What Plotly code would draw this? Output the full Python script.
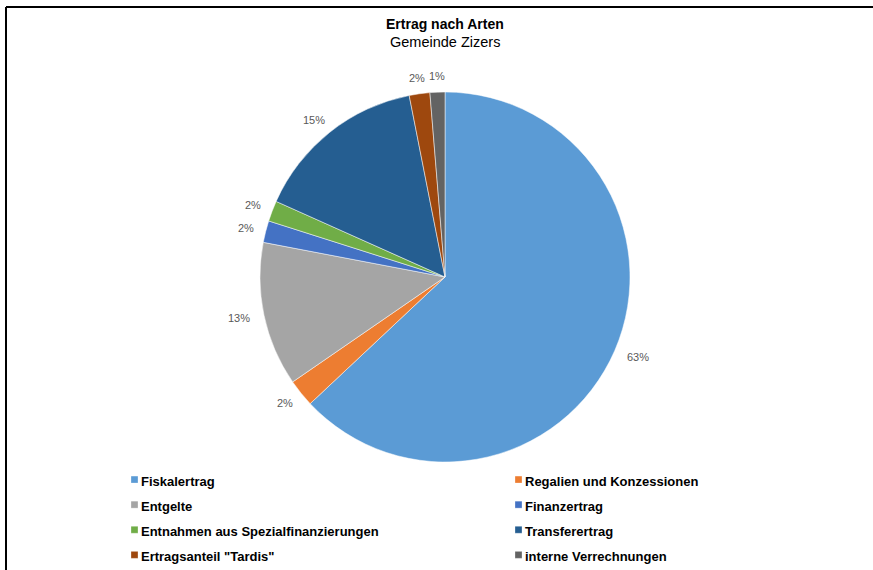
import math
import plotly.graph_objects as go

categories = ["Fiskalertrag", "Regalien und Konzessionen", "Entgelte", "Finanzertrag",
              "Entnahmen aus Spezialfinanzierungen", "Transferertrag",
              "Ertragsanteil \"Tardis\"", "interne Verrechnungen"]
shares = [63.0, 2.4, 12.6, 1.9, 1.8, 15.2, 1.8, 1.3]
colors = ["#5B9BD5", "#ED7D31", "#A5A5A5", "#4472C4", "#70AD47", "#255E91", "#9E480E", "#636363"]

W, H = 873, 570
cx, cy, r = 445, 277, 185
gap = 10

fig = go.Figure(go.Pie(
    labels=[f'<span style="font-size:13px">{c}</span>' for c in categories],
    values=shares, sort=False, direction="clockwise", rotation=0,
    marker=dict(colors=colors, line=dict(color="white", width=0.5)),
    textinfo="none", hoverinfo="label+percent",
    domain=dict(x=[(cx - r) / W, (cx + r) / W], y=[1 - (cy + r) / H, 1 - (cy - r) / H]),
))

# percentage labels placed just outside each slice, derived from the data
annotations = []
total = sum(shares)
cum = 0.0
for v in shares:
    mid = (cum + v / 2) / total * 2 * math.pi
    cum += v
    txt = f"{round(v / total * 100)}%"
    ux, uy = math.sin(mid), -math.cos(mid)
    hw = 5 * len(txt)
    hh = 6
    px = cx + (r + gap) * ux + hw * ux
    py = cy + (r + gap) * uy + hh * uy
    annotations.append(dict(text=txt, x=px / W, y=1 - py / H,
                            xref="paper", yref="paper", showarrow=False,
                            font=dict(size=11, color="#595959"),
                            xanchor="center", yanchor="middle"))

annotations += [
    dict(text="<b>Ertrag nach Arten</b>", x=445 / W, y=1 - 24 / H, xref="paper", yref="paper",
         showarrow=False, font=dict(size=14, color="black"), xanchor="center", yanchor="middle"),
    dict(text="Gemeinde Zizers", x=445 / W, y=1 - 42 / H, xref="paper", yref="paper",
         showarrow=False, font=dict(size=14.5, color="black"), xanchor="center", yanchor="middle"),
]

fig.update_layout(
    width=W, height=H, margin=dict(l=0, r=0, t=0, b=0, autoexpand=False),
    paper_bgcolor="white", plot_bgcolor="white",
    font=dict(family="Liberation Sans, Arial", color="black"),
    showlegend=True,
    legend=dict(orientation="h", x=101 / W, y=1 - 462 / H, xanchor="left", yanchor="top",
                entrywidth=339, entrywidthmode="pixels",
                font=dict(size=17, weight="bold", color="black"), traceorder="normal"),
    annotations=annotations,
    shapes=[
        dict(type="line", xref="paper", yref="paper", x0=6 / W, x1=1, y0=1 - 7 / H, y1=1 - 7 / H,
             line=dict(color="black", width=2)),
        dict(type="line", xref="paper", yref="paper", x0=6 / W, x1=6 / W, y0=1 - 7 / H, y1=0,
             line=dict(color="black", width=2)),
    ],
)

post = (
    "document.body.style.margin='0';"
    "var st=document.createElement('style');"
    "st.textContent='.legend path.legendpie{transform:translate(33.5px,0px) scale(0.58) !important;}';"
    "document.head.appendChild(st);"
)
fig.write_html("out.html", post_script=post, config={"displayModeBar": False})
